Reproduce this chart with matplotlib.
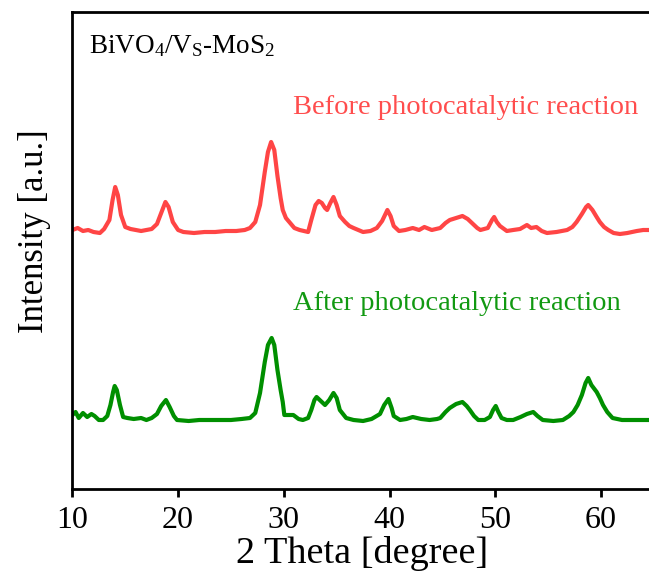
import matplotlib
matplotlib.use('Agg')
import matplotlib.pyplot as plt
import numpy as np

plt.rcParams['font.family'] = ['Liberation Serif', 'DejaVu Serif']
plt.rcParams['mathtext.fontset'] = 'custom'
plt.rcParams['mathtext.rm'] = 'Liberation Serif'
plt.rcParams['mathtext.it'] = 'Liberation Serif:italic'

# 2theta / intensity (a.u., relative to each baseline)
before_2theta = [10.0, 10.5, 11.0, 11.5, 12.0, 12.6, 13.0, 13.5, 13.8, 14.05, 14.3, 14.6, 15.0, 15.5,
                 16.0, 16.5, 17.0, 17.5, 18.0, 18.4, 18.8, 19.1, 19.5, 20.0, 20.5, 21.5, 22.5, 23.5,
                 24.5, 25.5, 26.3, 26.8, 27.3, 27.75, 28.2, 28.5, 28.8, 29.1, 29.4, 29.7, 29.9, 30.2,
                 30.6, 31.0, 31.5, 32.3, 32.6, 33.0, 33.3, 33.6, 33.9, 34.1, 34.4, 34.7, 35.0, 35.3,
                 35.8, 36.2, 36.6, 37.5, 38.2, 38.8, 39.3, 39.8, 40.1, 40.4, 40.9, 41.5, 42.2, 42.8,
                 43.3, 44.0, 44.8, 45.3, 45.7, 46.3, 46.9, 47.4, 47.8, 48.3, 48.6, 49.3, 49.7, 49.9,
                 50.15, 50.45, 51.1, 51.7, 52.35, 53.0, 53.4, 53.9, 54.4, 54.9, 55.8, 56.8, 57.3, 57.7,
                 58.2, 58.6, 58.8, 59.2, 59.6, 59.9, 60.3, 60.7, 61.2, 61.8, 62.5, 63.4, 64.0, 64.5]
before_y = [2, 4, 1, 2, 0, -1, 3, 12, 32, 45, 37, 17, 5, 3,
            2, 1, 2, 3, 8, 19, 30, 25, 10, 2, 0, -1, 0, 0,
            1, 1, 2, 4, 10, 27, 60, 80, 90, 82, 56, 34, 22, 14,
            9, 4, 2, 0, 12, 27, 31, 29, 24, 22, 29, 35, 27, 16,
            10, 6, 4, 0, 1, 4, 11, 22, 16, 6, 1, 2, 4, 2,
            5, 2, 4, 9, 12, 14, 16, 13, 9, 4, 2, 4, 12, 15,
            10, 6, 1, 2, 3, 7, 4, 5, 1, -1, 0, 2, 5, 10,
            18, 25, 27, 22, 15, 10, 5, 2, -1, -2, -1, 1, 2, 2]

after_2theta = [10.0, 10.3, 10.6, 11.0, 11.4, 11.8, 12.1, 12.5, 12.9, 13.3, 13.6, 13.85, 14.0, 14.2,
                14.5, 14.8, 15.2, 15.8, 16.5, 17.0, 17.5, 18.0, 18.4, 18.85, 19.2, 19.6, 19.9, 21.0,
                22.0, 23.0, 24.0, 25.0, 26.0, 26.8, 27.3, 27.75, 28.2, 28.5, 28.85, 29.1, 29.4, 29.7,
                29.9, 30.05, 30.5, 30.9, 31.4, 31.8, 32.3, 32.6, 32.9, 33.1, 33.5, 33.9, 34.3, 34.7,
                35.0, 35.3, 35.9, 36.6, 37.5, 38.3, 39.1, 39.5, 39.9, 40.2, 40.4, 41.0, 41.6, 42.2,
                43.0, 43.8, 44.5, 44.8, 45.3, 45.7, 46.3, 46.9, 47.3, 47.6, 48.0, 48.4, 49.0, 49.5,
                49.8, 50.05, 50.3, 50.6, 51.1, 51.7, 52.4, 53.0, 53.6, 54.0, 54.5, 55.5, 56.4, 57.0,
                57.4, 57.8, 58.2, 58.55, 58.8, 59.1, 59.6, 59.9, 60.2, 60.6, 61.1, 62.0, 63.0, 64.0, 64.5]
after_y = [5, 8, 2, 7, 3, 6, 4, 0, 0, 4, 15, 28, 34, 30,
           15, 3, 2, 1, 2, 0, 2, 6, 14, 20, 13, 4, 0, -1,
           0, 0, 0, 0, 1, 2, 7, 27, 58, 75, 82, 75, 50, 30,
           18, 5, 5, 5, 1, 0, 2, 10, 20, 23, 19, 15, 20, 27,
           22, 10, 2, 0, -1, 1, 6, 15, 21, 12, 4, 0, 1, 3,
           1, 0, 1, 2, 8, 12, 16, 18, 14, 10, 4, 0, 0, 3,
           10, 14, 8, 2, 0, 0, 3, 6, 8, 4, 0, -1, 0, 4,
           8, 15, 25, 37, 42, 35, 28, 22, 15, 8, 2, 0, 0, 0, 0]

before_offset = 257
after_offset = 69

fig = plt.figure(figsize=(6.49, 5.85), dpi=100)
ax = fig.add_axes([72.4/649, 96/585, (660-72.4)/649, 477/585])

ax.plot(before_2theta, np.array(before_y) + before_offset, color='#FF4545', lw=3)
ax.plot(after_2theta, np.array(after_y) + after_offset, color='#008F00', lw=3)

ax.text(30.9, 381, 'Before photocatalytic reaction', color='#FF4D4D', fontsize=20.5, va='center')
ax.text(30.9, 186, 'After photocatalytic reaction', color='#119911', fontsize=20.5, va='center')
ax.text(11.6, 443, r'BiVO$_4$/V$_\mathrm{S}$-MoS$_2$', color='black', fontsize=19.5, va='center')

ax.set_xlim(10, 10 + (660 - 72.4) / 10.57)
ax.set_ylim(0, 477)
ax.set_xticks([10, 20, 30, 40, 50, 60])
ax.set_yticks([])
ax.tick_params(axis='x', direction='out', length=6, width=2, labelsize=23, pad=6)
for s in ax.spines.values():
    s.set_linewidth(2)

ax.set_xlabel('2 Theta [degree]', fontsize=27.5)
ax.set_ylabel('Intensity [a.u.]', fontsize=25)
ax.xaxis.set_label_coords(0.493, -0.098)
ax.yaxis.set_label_coords(-0.037, 0.541)

fig.savefig('out.png', dpi=100)
